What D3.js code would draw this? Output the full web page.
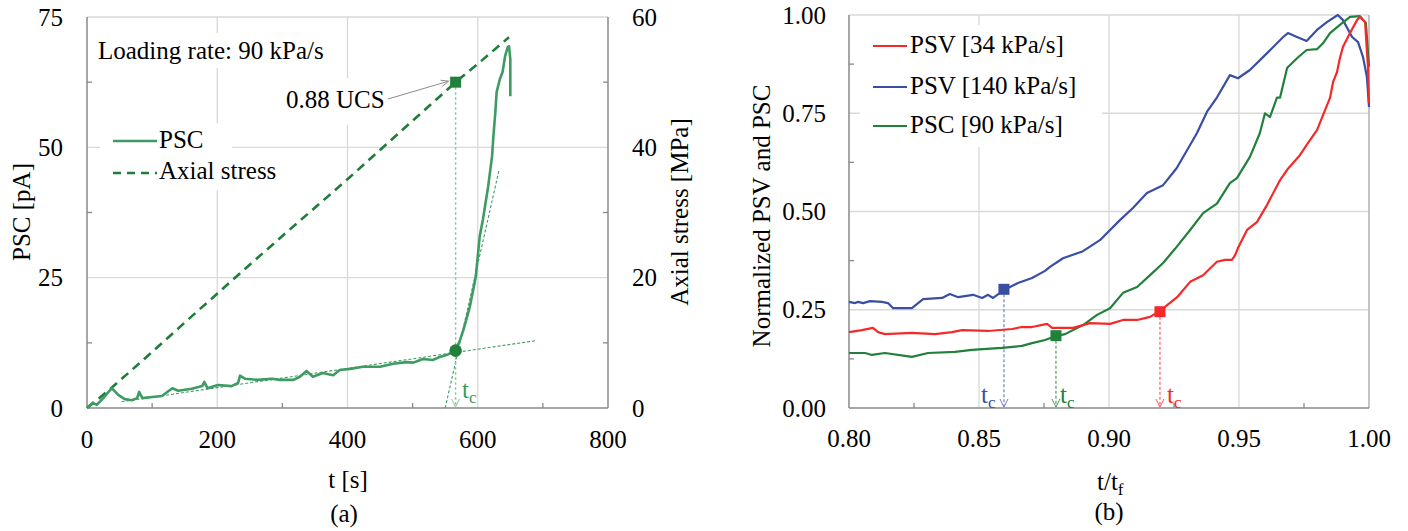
<!DOCTYPE html>
<html>
<head>
<meta charset="utf-8">
<script src="https://cdn.jsdelivr.net/npm/d3@7"></script>
<style>
  body { margin: 0; background: #fff; }
</style>
</head>
<body>
<svg id="fig" width="1408" height="531" font-family="'Liberation Serif', 'DejaVu Serif', serif"></svg>
<script>
// ---- panel (a): PSC and axial stress vs time ----
const t_psc = [0, 9, 15, 25, 38, 48, 58, 69, 77, 80, 85, 100, 115, 131, 140, 161, 177, 180, 185, 201, 222, 232, 235, 243, 262, 284, 296, 317, 327, 337, 347, 362, 378, 388, 404, 424, 450, 470, 491, 501, 516, 531, 542, 553, 566, 573, 578, 588, 597, 603, 608, 616, 622, 624, 627, 629, 634, 638, 642, 646, 648, 650, 650];
const psc   = [0, 1.0, 0.6, 1.9, 3.8, 2.5, 1.7, 1.5, 1.9, 3.1, 1.9, 2.1, 2.3, 3.8, 3.3, 3.7, 4.2, 5.0, 3.8, 4.4, 4.2, 4.8, 6.2, 5.6, 5.4, 5.6, 5.4, 5.4, 6.0, 7.1, 6.0, 6.7, 6.3, 7.3, 7.5, 7.9, 7.9, 8.5, 8.8, 8.7, 9.4, 9.2, 9.8, 10.2, 11.0, 13.1, 15.0, 19.5, 25.2, 32.9, 36.2, 42.5, 48.3, 52.1, 56.7, 60.6, 63.1, 64.4, 67.5, 69.2, 69.4, 66.9, 59.8];
const t_axial = [0, 20, 40, 100, 150, 224, 300, 376, 400, 450, 527, 566, 600, 648];
const axial   = [0, 1.6, 3.3, 8.6, 13.1, 19.7, 26.4, 33.0, 35.1, 39.6, 46.5, 50.0, 52.8, 56.9];
const tangent_low  = [[53, 1.2], [688, 12.9]];   // [t, pA]
const tangent_high = [[550, 0], [633, 45.8]];
const tc_a = 566, psc_at_tc = 11.0, ucs_stress = 50.0;
const xticks_a = [0, 200, 400, 600, 800];
const yticks_psc = [0, 25, 50, 75];
const yticks_axial = [0, 20, 40, 60];

// ---- panel (b): normalised PSV / PSC vs t/tf ----
const x_red = [0.8, 0.805, 0.8092, 0.8112, 0.8138, 0.8242, 0.8331, 0.8396, 0.8435, 0.8535, 0.8627, 0.8665, 0.8704, 0.8762, 0.8781, 0.8823, 0.8862, 0.8927, 0.9004, 0.9054, 0.9108, 0.9158, 0.9196, 0.9262, 0.9312, 0.9362, 0.9415, 0.9446, 0.9473, 0.9485, 0.9496, 0.9531, 0.9569, 0.9608, 0.9658, 0.9685, 0.9735, 0.9765, 0.98, 0.9831, 0.985, 0.9862, 0.9877, 0.9888, 0.99, 0.9927, 0.9954, 0.9965, 0.9985, 0.9996, 1.0];
const y_red = [0.193, 0.198, 0.204, 0.193, 0.188, 0.191, 0.188, 0.193, 0.198, 0.196, 0.201, 0.206, 0.206, 0.214, 0.204, 0.204, 0.204, 0.216, 0.214, 0.224, 0.224, 0.232, 0.247, 0.282, 0.321, 0.338, 0.372, 0.377, 0.377, 0.389, 0.407, 0.453, 0.473, 0.517, 0.58, 0.606, 0.644, 0.674, 0.707, 0.758, 0.789, 0.83, 0.855, 0.89, 0.919, 0.954, 0.987, 0.995, 0.982, 0.868, 0.776];
const x_blue = [0.8, 0.8023, 0.8035, 0.8054, 0.8081, 0.8127, 0.815, 0.817, 0.8242, 0.8285, 0.8358, 0.8388, 0.842, 0.8477, 0.8512, 0.8535, 0.8554, 0.8596, 0.865, 0.8704, 0.8754, 0.8773, 0.8823, 0.89, 0.8965, 0.9042, 0.9092, 0.9146, 0.9208, 0.926, 0.9338, 0.9377, 0.9415, 0.9465, 0.9496, 0.9542, 0.9608, 0.967, 0.9688, 0.9723, 0.976, 0.98, 0.9838, 0.988, 0.99, 0.9935, 0.9958, 0.9977, 0.9992, 1.0];
const y_blue = [0.270, 0.267, 0.270, 0.267, 0.272, 0.270, 0.267, 0.254, 0.254, 0.277, 0.280, 0.290, 0.282, 0.288, 0.280, 0.288, 0.280, 0.300, 0.318, 0.331, 0.349, 0.359, 0.381, 0.399, 0.427, 0.478, 0.509, 0.547, 0.567, 0.61, 0.699, 0.754, 0.79, 0.847, 0.839, 0.86, 0.903, 0.944, 0.954, 0.944, 0.934, 0.962, 0.982, 1.0, 0.987, 0.944, 0.931, 0.893, 0.842, 0.766];
const x_green = [0.8, 0.8062, 0.8088, 0.8138, 0.8242, 0.8304, 0.8408, 0.8473, 0.8588, 0.8665, 0.8704, 0.8754, 0.8796, 0.8831, 0.89, 0.8954, 0.9004, 0.9054, 0.9108, 0.9158, 0.9208, 0.9254, 0.9312, 0.9362, 0.9415, 0.9465, 0.9492, 0.9542, 0.958, 0.96, 0.9619, 0.9646, 0.9658, 0.9685, 0.9723, 0.976, 0.98, 0.9823, 0.985, 0.9888, 0.9927, 0.9965, 0.9988, 1.0];
const y_green = [0.140, 0.140, 0.135, 0.140, 0.130, 0.140, 0.143, 0.148, 0.153, 0.158, 0.165, 0.173, 0.183, 0.188, 0.211, 0.237, 0.254, 0.293, 0.308, 0.338, 0.369, 0.405, 0.453, 0.496, 0.52, 0.572, 0.585, 0.639, 0.699, 0.75, 0.74, 0.79, 0.79, 0.865, 0.89, 0.911, 0.913, 0.928, 0.954, 0.975, 0.995, 0.997, 0.98, 0.868];
const series_b = ['PSV [34 kPa/s]', 'PSV [140 kPa/s]', 'PSC [90 kPa/s]'];
const colors_b = ['#f42a2a', '#3a4ea3', '#21803a'];
const tc_b = [[0.9196, 0.245], [0.8596, 0.302], [0.8796, 0.184]];   // red, blue, green
const xticks_b = [0.80, 0.85, 0.90, 0.95, 1.00];
const yticks_b = [0, 0.25, 0.5, 0.75, 1.0];

const svg = d3.select('#fig');
const FS = 25;
const gridCol = '#d9d9d9', axisCol = '#898989';

// arrowhead pointing down at (x, y)
const flecha = (g, x, y, col) => g.append('path')
    .attr('d', `M${x - 4},${y - 8}L${x},${y}L${x + 4},${y - 8}`)
    .attr('fill', 'none').attr('stroke', col).attr('stroke-width', 1);

function textoTc(g, x, y, col) {
    const t = g.append('text').attr('x', x).attr('y', y)
        .attr('font-size', FS).attr('fill', col).text('t');
    t.append('tspan').attr('font-size', 17).attr('dy', 5).text('c');
}

// =============== panel (a) ===============
const xA = d3.scaleLinear().domain([0, 800]).range([87, 608]);
const yA = d3.scaleLinear().domain([0, 75]).range([408, 17]);
const yA2 = d3.scaleLinear().domain([0, 60]).range([408, 17]);
const ga = svg.append('g');

ga.selectAll('.gx').data(xticks_a.slice(1, -1)).join('line')
    .attr('x1', d => xA(d)).attr('x2', d => xA(d)).attr('y1', yA(0)).attr('y2', yA(75))
    .attr('stroke', gridCol).attr('stroke-width', 1.3);
ga.selectAll('.gy').data(yticks_psc.slice(1, -1)).join('line')
    .attr('x1', xA(0)).attr('x2', xA(800)).attr('y1', d => yA(d)).attr('y2', d => yA(d))
    .attr('stroke', gridCol).attr('stroke-width', 1.3);

// white text boxes covering the grid
ga.append('rect').attr('x', 92).attr('y', 33).attr('width', 250).attr('height', 35).attr('fill', '#fff');
ga.append('rect').attr('x', 100).attr('y', 123).attr('width', 132).attr('height', 67).attr('fill', '#fff');
ga.append('rect').attr('x', 280).attr('y', 78).attr('width', 112).attr('height', 47).attr('fill', '#fff');

// frame
ga.append('line').attr('x1', xA(0)).attr('x2', xA(800)).attr('y1', yA(75)).attr('y2', yA(75)).attr('stroke', gridCol).attr('stroke-width', 1.3);
ga.append('line').attr('x1', xA(800)).attr('x2', xA(800)).attr('y1', yA(0)).attr('y2', yA(75)).attr('stroke', axisCol).attr('stroke-width', 1.5);
ga.append('line').attr('x1', xA(0)).attr('x2', xA(0)).attr('y1', yA(0)).attr('y2', yA(75)).attr('stroke', axisCol).attr('stroke-width', 1.5);
ga.append('line').attr('x1', xA(0)).attr('x2', xA(800)).attr('y1', yA(0)).attr('y2', yA(0)).attr('stroke', axisCol).attr('stroke-width', 1.5);
// minor ticks (inside)
ga.selectAll('.mx').data([100, 300, 500, 700]).join('line')
    .attr('x1', d => xA(d)).attr('x2', d => xA(d)).attr('y1', yA(0)).attr('y2', yA(0) - 5)
    .attr('stroke', axisCol).attr('stroke-width', 1.3);
ga.selectAll('.my').data([12.5, 37.5, 62.5]).join('line')
    .attr('x1', xA(0)).attr('x2', xA(0) + 5).attr('y1', d => yA(d)).attr('y2', d => yA(d))
    .attr('stroke', axisCol).attr('stroke-width', 1.3);
ga.selectAll('.my2').data([10, 30, 50]).join('line')
    .attr('x1', xA(800)).attr('x2', xA(800) - 5).attr('y1', d => yA2(d)).attr('y2', d => yA2(d))
    .attr('stroke', axisCol).attr('stroke-width', 1.3);

// tick labels
ga.selectAll('.tx').data(xticks_a).join('text')
    .attr('x', d => xA(d)).attr('y', 448).attr('text-anchor', 'middle').attr('font-size', FS).text(d => d);
ga.selectAll('.ty').data(yticks_psc).join('text')
    .attr('x', 63).attr('y', d => yA(d) + 8.5).attr('text-anchor', 'end').attr('font-size', FS).text(d => d);
ga.selectAll('.ty2').data(yticks_axial).join('text')
    .attr('x', 632).attr('y', d => yA2(d) + 8.5).attr('font-size', FS).text(d => d);

// axis titles
ga.append('text').attr('x', 348).attr('y', 488).attr('text-anchor', 'middle').attr('font-size', FS).text('t [s]');
ga.append('text').attr('x', 344).attr('y', 522).attr('text-anchor', 'middle').attr('font-size', FS).text('(a)');
ga.append('text').attr('transform', 'translate(30,212) rotate(-90)').attr('text-anchor', 'middle').attr('font-size', FS).text('PSC [pA]');
ga.append('text').attr('transform', 'translate(688,212) rotate(-90)').attr('text-anchor', 'middle').attr('font-size', FS).text('Axial stress [MPa]');

// tangents
const lineA = d3.line().x(d => xA(d[0])).y(d => yA(d[1]));
[tangent_low, tangent_high].forEach(tg => {
    ga.append('path').attr('d', lineA(tg)).attr('fill', 'none')
        .attr('stroke', '#3d9b63').attr('stroke-width', 1.1).attr('stroke-dasharray', '3,2');
});

// vertical dotted line to tc
ga.append('line').attr('x1', xA(tc_a)).attr('x2', xA(tc_a)).attr('y1', yA2(ucs_stress) + 5).attr('y2', yA(0) - 1)
    .attr('stroke', '#86c99c').attr('stroke-width', 1.5).attr('stroke-dasharray', '2.5,2.5');
flecha(ga, xA(tc_a), yA(0) - 1, '#86c99c');
textoTc(ga, 462, 398, '#3d9b63');

// axial stress dashed
ga.append('path')
    .attr('d', d3.line().x((d, i) => xA(t_axial[i])).y(d => yA2(d))(axial))
    .attr('fill', 'none').attr('stroke', '#1f7d3a').attr('stroke-width', 2.6).attr('stroke-dasharray', '9,6');
// PSC
ga.append('path')
    .attr('d', d3.line().x((d, i) => xA(t_psc[i])).y(d => yA(d))(psc))
    .attr('fill', 'none').attr('stroke', '#3d9b63').attr('stroke-width', 2.6).attr('stroke-linejoin', 'round');

// markers
ga.append('rect').attr('x', xA(tc_a) - 5.5).attr('y', yA2(ucs_stress) - 5.5).attr('width', 11).attr('height', 11).attr('fill', '#21803a');
ga.append('circle').attr('cx', xA(tc_a)).attr('cy', yA(psc_at_tc)).attr('r', 6.3).attr('fill', '#21803a');

// annotations
ga.append('text').attr('x', 98).attr('y', 59).attr('font-size', FS).text('Loading rate: 90 kPa/s');
ga.append('text').attr('x', 286).attr('y', 108).attr('font-size', FS).text('0.88 UCS');
ga.append('line').attr('x1', 388).attr('y1', 99).attr('x2', xA(tc_a) - 7).attr('y2', yA2(ucs_stress) - 1)
    .attr('stroke', '#8c8c8c').attr('stroke-width', 1);
{
    const x2 = xA(tc_a) - 7, y2 = yA2(ucs_stress) - 1;
    const ang = Math.atan2(y2 - 99, x2 - 388);
    const p = a => `${x2 - 8 * Math.cos(ang + a)},${y2 - 8 * Math.sin(ang + a)}`;
    ga.append('path').attr('d', `M${p(0.4)}L${x2},${y2}L${p(-0.4)}`)
        .attr('fill', 'none').attr('stroke', '#8c8c8c').attr('stroke-width', 1);
}

// legend (a)
ga.append('line').attr('x1', 113).attr('x2', 157).attr('y1', 141).attr('y2', 141).attr('stroke', '#3d9b63').attr('stroke-width', 2.6);
ga.append('text').attr('x', 159).attr('y', 148).attr('font-size', FS).text('PSC');
ga.append('line').attr('x1', 113).attr('x2', 157).attr('y1', 173).attr('y2', 173).attr('stroke', '#1f7d3a').attr('stroke-width', 2.6).attr('stroke-dasharray', '8,6');
ga.append('text').attr('x', 159).attr('y', 179).attr('font-size', FS).text('Axial stress');

// =============== panel (b) ===============
const xB = d3.scaleLinear().domain([0.8, 1.0]).range([849, 1369]);
const yB = d3.scaleLinear().domain([0, 1]).range([408, 15]);
const gb = svg.append('g');

gb.selectAll('.gx').data(xticks_b.slice(1, -1)).join('line')
    .attr('x1', d => xB(d)).attr('x2', d => xB(d)).attr('y1', yB(0)).attr('y2', yB(1))
    .attr('stroke', gridCol).attr('stroke-width', 1.3);
gb.selectAll('.gy').data(yticks_b.slice(1, -1)).join('line')
    .attr('x1', xB(0.8)).attr('x2', xB(1)).attr('y1', d => yB(d)).attr('y2', d => yB(d))
    .attr('stroke', gridCol).attr('stroke-width', 1.3);

gb.append('rect').attr('x', 860).attr('y', 25).attr('width', 242).attr('height', 122).attr('fill', '#fff');

gb.append('line').attr('x1', xB(0.8)).attr('x2', xB(1)).attr('y1', yB(1)).attr('y2', yB(1)).attr('stroke', gridCol).attr('stroke-width', 1.3);
gb.append('line').attr('x1', xB(1)).attr('x2', xB(1)).attr('y1', yB(0)).attr('y2', yB(1)).attr('stroke', '#b0b0b0').attr('stroke-width', 1.5);
gb.append('line').attr('x1', xB(0.8)).attr('x2', xB(0.8)).attr('y1', yB(0)).attr('y2', yB(1)).attr('stroke', axisCol).attr('stroke-width', 1.5);
gb.append('line').attr('x1', xB(0.8)).attr('x2', xB(1)).attr('y1', yB(0)).attr('y2', yB(0)).attr('stroke', axisCol).attr('stroke-width', 1.5);
gb.selectAll('.mx').data([0.825, 0.875, 0.925, 0.975]).join('line')
    .attr('x1', d => xB(d)).attr('x2', d => xB(d)).attr('y1', yB(0)).attr('y2', yB(0) - 5)
    .attr('stroke', axisCol).attr('stroke-width', 1.3);
gb.selectAll('.my').data([0.125, 0.375, 0.625, 0.875]).join('line')
    .attr('x1', xB(0.8)).attr('x2', xB(0.8) + 5).attr('y1', d => yB(d)).attr('y2', d => yB(d))
    .attr('stroke', axisCol).attr('stroke-width', 1.3);

gb.selectAll('.tx').data(xticks_b).join('text')
    .attr('x', d => xB(d)).attr('y', 447).attr('text-anchor', 'middle').attr('font-size', FS).text(d => d.toFixed(2));
gb.selectAll('.ty').data(yticks_b).join('text')
    .attr('x', 826).attr('y', d => yB(d) + 8.5).attr('text-anchor', 'end').attr('font-size', FS).text(d => d.toFixed(2));

const tx = gb.append('text').attr('x', 1097).attr('y', 490).attr('font-size', FS).text('t/t');
tx.append('tspan').attr('font-size', 17).attr('dy', 5).text('f');
gb.append('text').attr('x', 1109).attr('y', 520).attr('text-anchor', 'middle').attr('font-size', FS).text('(b)');
gb.append('text').attr('transform', 'translate(770,216) rotate(-90)').attr('text-anchor', 'middle').attr('font-size', FS).text('Normalized PSV and PSC');

// tc arrows
const tcCols = ['#ff5a5a', '#6f80c8', '#4f9e62'];
tc_b.forEach((p, i) => {
    gb.append('line').attr('x1', xB(p[0])).attr('x2', xB(p[0])).attr('y1', yB(p[1]) + 5).attr('y2', yB(0) - 1)
        .attr('stroke', tcCols[i]).attr('stroke-width', 1.2).attr('stroke-dasharray', '3,2');
    flecha(gb, xB(p[0]), yB(0) - 1, tcCols[i]);
});
textoTc(gb, 1167, 403, colors_b[0]);
textoTc(gb, 981, 403, colors_b[1]);
textoTc(gb, 1060, 403, colors_b[2]);

const lineB = d3.line().x(d => xB(d[0])).y(d => yB(d[1]));
const datosB = [d3.zip(x_red, y_red), d3.zip(x_blue, y_blue), d3.zip(x_green, y_green)];
// draw blue, green, red (red on top)
[1, 2, 0].forEach(i => {
    gb.append('path').attr('d', lineB(datosB[i])).attr('fill', 'none')
        .attr('stroke', colors_b[i]).attr('stroke-width', 2.2).attr('stroke-linejoin', 'round');
});
tc_b.forEach((p, i) => {
    gb.append('rect').attr('x', xB(p[0]) - 5.5).attr('y', yB(p[1]) - 5.5).attr('width', 11).attr('height', 11).attr('fill', colors_b[i]);
});

// legend (b)
const legY = [46, 87, 126];
series_b.forEach((s, i) => {
    gb.append('line').attr('x1', 873).attr('x2', 907).attr('y1', legY[i]).attr('y2', legY[i])
        .attr('stroke', colors_b[i]).attr('stroke-width', 2.2);
    gb.append('text').attr('x', 910).attr('y', legY[i] + 7).attr('font-size', FS).text(s);
});
</script>
</body>
</html>
